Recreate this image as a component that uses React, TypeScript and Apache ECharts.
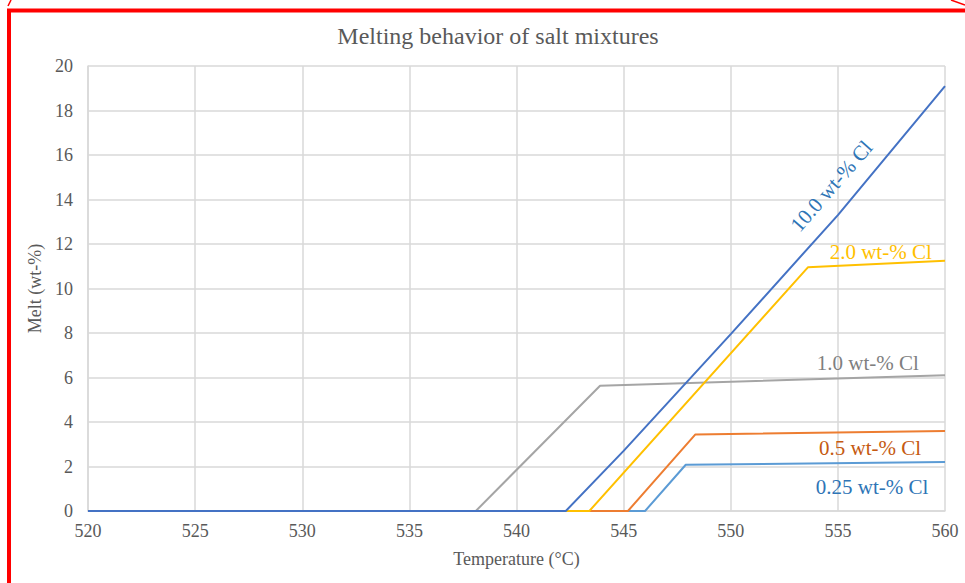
import React, { useEffect, useRef } from "react";
import * as echarts from "echarts";

const FONT = "'Liberation Serif', 'Times New Roman', serif";

const seriesNames = ["0.25 wt-% Cl", "0.5 wt-% Cl", "1.0 wt-% Cl", "2.0 wt-% Cl", "10.0 wt-% Cl"];
const lineColors = ["#5B9BD5", "#ED7D31", "#A5A5A5", "#FFC000", "#4472C4"];
const labelColors = ["#2E75B6", "#C55A11", "#7F7F7F", "#FFC000", "#2E75B6"];

const cl025: [number, number][] = [[520, 0], [546.0, 0], [547.9, 2.08], [560, 2.2]];
const cl05: [number, number][] = [[520, 0], [545.2, 0], [548.35, 3.44], [560, 3.6]];
const cl10: [number, number][] = [[520, 0], [538.1, 0], [543.9, 5.63], [560, 6.1]];
const cl20: [number, number][] = [[520, 0], [543.4, 0], [553.6, 10.95], [560, 11.25]];
const cl100: [number, number][] = [[520, 0], [542.3, 0], [545, 2.7], [550, 7.95], [555, 13.3], [560, 19.1]];
const seriesData = [cl025, cl05, cl10, cl20, cl100];

// label anchor (data coords) and rotation
const labelPos: [number, number][] = [[556.6, 1.08], [556.5, 2.83], [556.4, 6.65], [557.0, 11.64], [554.7, 14.6]];
const labelRot = [0, 0, 0, 0, 49];

const xTicks = { min: 520, max: 560, interval: 5 };
const yTicks = { min: 0, max: 20, interval: 2 };

export default function App() {
  const ref = useRef<HTMLDivElement>(null);
  useEffect(() => {
    if (!ref.current) return;
    const chart = echarts.init(ref.current, null, { renderer: "svg" });
    chart.setOption({
      animation: false,
      backgroundColor: "#ffffff",
      title: {
        text: "Melting behavior of salt mixtures",
        left: 493,
        top: 19,
        textAlign: "center",
        textStyle: { fontFamily: FONT, fontSize: 24, fontWeight: "normal", color: "#595959" },
      },
      grid: { left: 88, right: 20, top: 66, bottom: 72 },
      xAxis: {
        type: "value",
        min: xTicks.min,
        max: xTicks.max,
        interval: xTicks.interval,
        name: "Temperature (°C)",
        nameLocation: "middle",
        nameGap: 39,
        nameTextStyle: { fontFamily: FONT, fontSize: 18, color: "#595959" },
        axisLine: { show: true, lineStyle: { color: "#D9D9D9", width: 1.5 } },
        axisTick: { show: false },
        axisLabel: { fontFamily: FONT, fontSize: 18, color: "#595959", margin: 11 },
        splitLine: { show: true, lineStyle: { color: "#D9D9D9", width: 1.5 } },
      },
      yAxis: {
        type: "value",
        min: yTicks.min,
        max: yTicks.max,
        interval: yTicks.interval,
        name: "Melt (wt-%)",
        nameLocation: "middle",
        nameGap: 37,
        nameTextStyle: { fontFamily: FONT, fontSize: 18, color: "#595959" },
        axisLine: { show: true, lineStyle: { color: "#D9D9D9", width: 1.5 } },
        axisTick: { show: false },
        axisLabel: { fontFamily: FONT, fontSize: 18, color: "#595959", margin: 15 },
        splitLine: { show: true, lineStyle: { color: "#D9D9D9", width: 1.5 } },
      },
      series: seriesNames.map((n, i) => ({
        name: n,
        type: "line",
        data: seriesData[i],
        showSymbol: false,
        symbol: "none",
        lineStyle: { color: lineColors[i], width: 2 },
        z: 2 + i,
      })),
    });
    const texts = seriesNames.map((n, i) => {
      const p = chart.convertToPixel({ gridIndex: 0 }, labelPos[i]) as number[];
      return {
        type: "text",
        x: p[0],
        y: p[1],
        rotation: (labelRot[i] * Math.PI) / 180,
        style: {
          text: n,
          fill: labelColors[i],
          font: `21px ${FONT}`,
          align: "center",
          verticalAlign: "middle",
        },
        z: 20,
      };
    });
    chart.setOption({
      graphic: [
        ...texts,
        {
          type: "rect",
          shape: { x: 9, y: 10.5, width: 1000, height: 700 },
          style: { fill: "none", stroke: "#FF0000", lineWidth: 4 },
          z: 30,
        },
        {
          type: "line",
          shape: { x1: 8, y1: 6, x2: 11, y2: 0 },
          style: { stroke: "#FF0000", lineWidth: 1.5 },
          z: 30,
        },
        {
          type: "line",
          shape: { x1: 951, y1: 0, x2: 965, y2: 5 },
          style: { stroke: "#FF0000", lineWidth: 1.5 },
          z: 30,
        },
      ],
    });
    return () => chart.dispose();
  }, []);
  return (
    <div
      ref={ref}
      style={{ position: "fixed", left: 0, top: 0, width: 965, height: 583, background: "#fff" }}
    />
  );
}
